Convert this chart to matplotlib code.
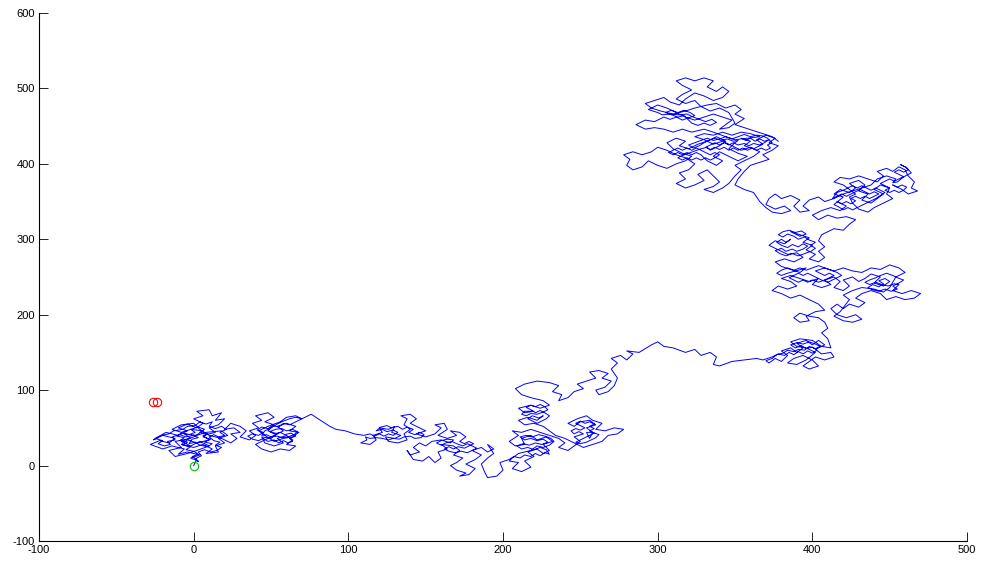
import numpy as np
import matplotlib
matplotlib.use("Agg")
import matplotlib.pyplot as plt

# ---- data: waypoints of the random walk (x, y), in walk order ----
seg_start = [(0,0)]
core_a1 = [(2,8),(-1,12),(3,15),(0,19),(-5,21),(-2,25),(-7,27),(-4,31),(-9,33),(-6,37),(-11,39),(-8,43),(-3,41),
           (1,44),(-2,48),(3,51),(7,48),(4,44),(9,42),(6,38),(11,35),(7,31),(12,29),(9,25),(4,27),(1,31),(-3,29),
           (-1,35),(3,37),(0,40),(-5,38),(-9,41),(-14,38),(-12,34),(-17,32),(-15,28),(-19,26),(-23,29),(-20,33),
           (-25,36),(-21,40),(-16,42),(-13,46),(-7,48),(-4,52),(1,53),(4,58),(8,55),(12,58),(10,52),(14,49),
           (18,52),(21,48),(17,44),(20,40),(16,38),(13,41),(10,38),(13,33),(17,31),(14,27),(18,24),(15,20),
           (11,18),(7,21),(3,18),(5,13),(1,9),(3,5)]
seg_a = [(3,6),(-2,10),(4,14),(-4,18),(-10,15),(-6,22),(-14,26),(-20,22),(-28,28),(-22,33),(-16,30),
         (-12,36),(-20,40),(-26,34),(-18,44),(-10,40),(-4,46),(-10,50),(-4,55),(2,50),(6,56),(0,62),(6,66),
         (2,72),(10,74),(12,66),(18,70),(14,60),(20,62),(16,54),(10,50),(14,44),(6,40),(10,34),(2,30),(-4,34),
         (-8,28),(0,24),(6,28),(12,22),(8,16),(16,18),(14,26),(20,30),(16,36),(22,40),(18,46),(8,44),(2,40),
         (-6,42),(-2,36),(-12,32),(-8,24),(-16,20),(-12,12),(-4,16),(2,20),(10,26),(4,32),(-2,26),(-8,32),
         (0,38),(6,46),(-2,48),(-8,44),(-14,48),(-8,54),(0,56),(4,48),(10,40),(18,36),(24,30),(28,36),(24,42),
         (30,44),(26,50),(20,48),(24,56),(30,52),(34,46),(30,38),(36,34),(40,40),(36,46),(42,50),(38,56),
         (44,60),(40,66),(48,70),(52,64),(46,58),(52,54),(48,46),(54,42),(50,36),(44,38),(46,30),(52,26),
         (58,30),(54,36),(60,40),(64,34),(60,28),(66,26),(62,20),(56,22),(50,18),(44,22),(40,28),(46,34),
         (52,40),(58,46),(54,52),(60,56),(66,52),(62,46),(68,44),(64,38),(58,36),(52,32),(46,40),(42,46),
         (48,52),(56,58),(60,64),(66,66),(70,62)]
core_a2 = [(66,58),(62,54),(58,56),(55,51),(51,53),(48,49),(44,51),(41,47),(45,44),(42,40),(38,42),(35,39),
           (38,35),(42,33),(45,36),(48,32),(52,34),(55,30),(58,33),(61,30),(64,32),(62,36),(66,39),(63,43),
           (59,41),(56,44),(52,42),(49,45),(53,48),(57,49),(60,46),(64,48),(67,45),(65,41),(61,38),(57,37),
           (54,39),(50,38),(47,41),(44,40),(46,46),(50,50),(54,55),(58,59),(62,62),(66,64),(70,62)]
seg_trail1 = [(76,68),(82,60),(88,52),(92,48),(98,46),(104,42),(110,40)]
core_b = [(114,42),(117,39),(120,42),(123,39),(126,42),(129,40),(132,44),(129,47),(125,45),(122,48),(118,46),
          (121,51),(125,53),(128,50),(132,52),(135,48),(138,51),(142,48),(139,44),(143,41),(146,44),(149,41),
          (147,37),(143,36),(140,39),(136,38),(133,35),(129,36),(126,34),(122,36),(118,37),(114,36),(111,38)]
seg_b1 = [(112,34),(108,30),(114,28),(118,34),(116,40),(122,44),(120,50),(126,48),(130,52),(128,44),(134,40),
          (130,36),(124,38),(126,32),(132,30),(138,34),(136,42),(140,48),(136,54),(138,62),(134,66),(140,68),
          (144,62),(140,56),(146,50),(150,46),(144,42),(150,38),(156,42),(160,50),(156,54),(162,56),(164,48),
          (158,40),(164,36),(170,40),(166,46),(172,44),(176,38),(172,32)]
core_b2 = [(175,29),(178,32),(181,29),(178,26),(175,23),(171,25),(168,22),(165,25),(162,22),(165,19),(169,17),
           (173,19),(177,17),(180,20),(183,23),(180,26),(177,29),(174,26),(170,29),(167,32),(163,30),(160,27),
           (157,30),(160,33),(164,35),(168,34)]
seg_b2 = [(166,30),(160,34),(154,32),(150,26),
          (146,30),(142,24),(146,18),(140,14),(138,20),(142,8),(148,6),(152,12),(156,4),(160,10),(158,18),
          (164,22),(160,28),(168,26),(172,20),(168,14),(174,10),(170,4),(166,0),(170,-6),(176,-10),(172,-14),
          (178,-12),(182,-4),(176,2),(182,8),(186,14),(180,20),(186,24),(190,18),(194,22),(190,28),(194,16),
          (190,10),(186,2),(188,-8),(190,-16),(196,-14),(200,-6),(198,4),(204,8)]
core_c1 = [(207,12),(211,10),(214,14),(218,12),(221,16),(224,13),(227,17),(230,15),(228,21),(224,24),(220,21),
           (216,24),(212,22),(209,26),(213,29),(217,27),(221,30),(225,28),(229,31),(226,35),(222,33),(218,36),
           (214,34),(211,38),(215,40),(219,38),(223,41),(227,39),(231,36),(233,32),(230,27),(226,24),(222,26),
           (218,20),(214,18),(210,16),(206,10),(204,6)]
seg_c1 = [(210,4),(206,-4),(212,-8),(218,-2),(214,6),(220,12),(216,18),(222,22),(226,16),(230,20),(226,28),
          (232,32),(228,38),(222,34),(218,40),(212,36),(214,28),(208,26),(204,32),(210,40),(206,46),(212,44),
          (218,48),(224,44),(230,40),(236,36),(240,30),(236,24),(242,20),(246,26),(250,32),(246,38),(252,42)]
core_c2 = [(249,45),(246,42),(244,46),(247,49),(250,47),(253,50),(250,53),(247,56),(250,59),(253,56),(256,58),
           (259,55),(256,52),(259,49),(256,46),(259,43),(256,40),(253,37),(250,34),(247,31),(250,29),(254,31),
           (257,34),(260,37),(262,41),(258,44),(254,44)]
seg_c2 = [(256,36),(258,44),(254,50),(260,54),(256,60),(250,58),(246,52),(242,56),(248,62),(254,66),(258,60),
          (264,56),(260,48),(266,46),(272,50),(278,48),(274,42),(268,40),(264,32),(258,28),(252,24),(246,30),
          (240,36),(234,40),(230,46),(226,52),(220,56),(214,54),(210,60),(216,64),(222,60),(226,66)]
core_c3 = [(223,63),(219,66),(216,62),(219,59),(222,56),(225,59),(228,62),(230,66),(227,70),(224,73),(221,70),
           (218,74),(215,77),(218,80),(221,78),(224,81),(227,78),(229,74),(226,71),(222,68),(218,69),(215,66),
           (212,68),(214,72)]
seg_c3 = [(220,72),(214,70),(210,76),(218,80),(224,76),(230,80),(226,86),(218,90),(212,94),(208,102),(214,108),
          (222,112),(230,110),(236,106),(232,98),(238,94),(236,86),(242,90),(246,98),(252,102),(248,108),
          (254,112),(260,116),(256,124),(262,126),(268,122),(264,116),(270,112),(266,104),(260,100),(262,94),
          (268,98),(272,106),(274,116),(270,128),(274,136),(270,142),(276,146),(280,140),(284,148),(280,152),
          (288,150),(296,160),(300,164),(304,158),(310,156),(318,150),(324,154),(328,146),(334,150),(338,144),
          (336,134),(340,132),(348,138),(356,140),(364,142),(368,140)]
core_d = [(374,144),(378,148),(382,146),(385,150),(388,147),(391,151),(394,148),(397,152),(400,149),(403,153),
          (400,157),(396,155),(393,159),(389,156),(386,160),(390,163),(394,161),(398,164),(402,161),(405,158),
          (402,155),(398,158),(395,153),(391,154),(388,151),(384,153),(381,149),(377,147),(374,142),(370,139)]
seg_d = [(372,136),(376,142),(380,138),(384,146),(380,152),(386,156),(390,150),(394,156),(390,162),(396,166),
         (400,160),(404,166),(408,160),(402,154),(406,148),(412,150),(414,144),(408,140),(402,144),(398,138),
         (394,132),(398,128),(404,132),(400,140),(394,146),(388,142),(384,136),(390,134),(396,140),(402,150),
         (396,156),(390,158),(386,164),(392,168),(400,166),(406,158),(412,156),(410,168),(406,176),(410,182),
         (408,190),(404,196),(398,198),(392,202),(388,196),(392,190),(398,192),(396,198),(402,204),(408,206),
         (404,214),(398,220)]
seg_e1 = [(392,226),(386,222),(380,228),(374,232),(378,238),(384,234),(390,238),(386,244),(380,248),(386,252),
          (392,248),(398,244),(404,248),(400,240),(406,236),(412,240),(408,246),(414,250),(418,244),(414,236),
          (420,232),(424,238),(420,246),(426,250),(430,244),(434,248),(438,254),(444,250),(440,242),(446,238),
          (450,244)]
core_e2 = [(447,248),(443,245),(446,241),(443,237),(439,240),(436,236),(439,233),(443,231),(447,234),(451,231),
           (455,234),(452,238),(456,242),(459,246),(455,249),(452,252),(448,255),(444,252),(441,249),(437,246),
           (434,243),(437,240),(441,243),(445,240),(449,238),(453,241)]
seg_e2a = [(456,240),(452,232),(458,228),(464,232),(470,228),(466,222),(460,220),(454,224),(448,220),
           (444,228),(438,232),(432,228),(428,222),(434,216),(430,210),(424,214),(420,208),(416,214),(412,208),
           (416,200),(422,196),(428,200),(432,194),(426,190),(420,192),(414,198),(418,204),(424,220),(420,226),
           (426,232),(432,236),(440,234),(446,230),(450,236),(454,250),(460,256),(456,262),(450,266),(444,260),
           (438,262),(432,256),(426,258),(420,262),(414,258),(408,262),(402,258)]
core_e3 = [(405,255),(408,252),(411,255),(414,252),(411,249),(408,246),(404,243),(400,246),(397,243),(394,246),
           (391,243),(388,246),(385,249),(388,252),(391,255),(394,252),(397,255),(400,252),(403,249),(406,246),
           (410,243),(413,246),(416,249),(419,252),(416,256),(412,259),(408,262),(404,265),(400,262),(396,259),
           (392,262),(388,259),(384,262),(380,259),(377,255),(380,252),(384,255)]
seg_e2b = [(396,262),(392,256),(386,260),
           (380,264),(376,270),(382,274),(388,270),(394,276),(390,282),(384,280),(378,286),(372,292),(376,298),
           (382,294),(386,300)]
core_e1 = [(383,296),(380,300),(377,296),(380,292),(384,289),(387,293),(391,290),(394,294),(397,291),(394,287),
           (390,284),(387,287),(383,284),(380,288),(376,285),(379,281),(383,278),(387,281),(391,278),(395,281),
           (399,284),(402,288),(399,292),(402,296),(398,299),(395,303),(391,300),(388,304),(384,307),(381,303),
           (378,306),(381,310),(385,312),(389,309),(393,311),(396,307),(392,304)]
seg_e3 = [(386,310),(392,306),(398,302),(394,296),(400,292),(396,286),(402,280),(398,274),(404,270),(408,276),
          (404,284),(408,290),(404,298),(406,306),(410,310),(414,314),(420,312),(424,320),(428,326)]
seg_f1 = [(422,330),(416,328),(410,332),(404,326),(400,332),(406,338),(412,342),(418,338),(422,344),(416,350)]
core_f = [(419,347),(422,350),(425,347),(428,351),(425,354),(428,357),(431,354),(434,357),(437,354),(440,357),
          (443,360),(440,363),(437,360),(434,363),(431,366),(428,363),(425,360),(422,357),(419,360),(416,357),
          (413,354),(416,362),(420,365),(423,368),(426,371),(429,368),(432,371),(435,368),(438,365),(441,368),
          (444,365),(447,362),(444,358),(441,354),(438,351),(435,348),(432,345),(429,342),(426,339),(423,342),
          (420,339),(417,343),(414,346)]
seg_f2a = [(420,356),(414,360),(418,366),(424,362),(428,368),(424,374),(430,378),(434,372),(430,364),(436,360),
           (432,352),(438,348),(442,354),(446,360),(440,366),(444,372),(450,368),(448,360),(452,354),(446,348),
           (440,342),(436,336),(430,340),(426,348),(424,356),(428,360),(420,372),(414,376),(418,382),(424,380),
           (430,384),(436,380),(442,376),(446,384),(442,390),(448,394),(452,390),(456,396),(460,392),(462,384),
           (466,376),(464,368),(468,364),(462,360),(458,366),(452,372)]
core_f2 = [(455,369),(458,372),(461,369),(459,365),(456,362),(453,365),(450,362),(447,365),(450,368),(447,371),
           (444,374),(447,377),(450,380),(453,377),(456,380),(459,383),(456,386),(453,389),(456,392),(459,389),
           (462,392),(460,396),(457,399),(461,395),(464,388),(461,385),(458,381),(455,376),(452,375)]
seg_f2b = [(454,380),(448,384),(442,380),(438,372),
           (432,368),(426,364),(420,360),(414,354),(408,350),(404,356),(398,352),(394,344),(398,338),(392,336),
           (388,344),(392,352),(386,358),(380,354),(376,360),(372,354),(370,346),(376,340),(382,344),(386,338),
           (380,334),(374,336),(370,342),(366,350),(362,362),(356,366),(350,372),(352,380),(356,390),(360,398),
           (366,402),(372,406)]
seg_g1 = [(368,412),(374,418),(378,424),(372,428),(376,434),(370,438),(364,432),(368,426),(362,420),(356,424),
          (360,430),(354,434)]
core_g = [(357,431),(360,434),(363,430),(366,433),(369,430),(372,432),(369,428),(366,425),(362,427),(359,424),
          (356,427),(352,425),(349,428),(346,425),(343,428),(340,425),(337,428),(334,425),(331,422),(334,419),
          (337,422),(340,419),(343,422),(346,418),(349,421),(352,418),(355,421),(358,418),(361,421),(364,418),
          (367,421),(370,418),(373,421),(371,425),(374,428),(371,434),(368,437),(364,438),(360,436),(356,439),
          (352,436),(348,433),(344,436),(340,433),(336,431),(332,434),(328,431),(324,428),(320,425),(323,421),
          (327,424),(330,428),(333,431),(337,434),(341,431),(345,433),(349,430),(352,431)]
seg_g2 = [(350,428),(346,420),(352,414),(358,410),(352,404),(346,410),(340,416),(336,410),
          (342,404),(338,398),(332,404),(328,412)]
core_g3 = [(325,415),(322,412),(319,415),(316,412),(313,415),(310,412),(307,415),(310,418),(313,421),(316,418),
           (319,421),(322,418),(325,421),(328,418),(331,415),(334,412),(337,415),(340,412),(337,408),(334,405),
           (331,408),(328,405),(325,408),(322,405),(319,408),(316,405),(313,408),(316,411),(320,414),(324,417),
           (328,420),(332,422)]
seg_g3 = [(334,418),(340,424),(344,430),(338,436),(332,430),(326,426),
          (320,420),(314,424),(318,430),(312,434),(306,428),(310,420),(316,414),(322,410),(318,404),(312,400),
          (306,394),(300,398),(294,404),(290,396),(284,392),(280,398),(282,406),(278,412),(284,416),(290,412),
          (296,416),(300,422),(306,418),(312,412),(318,408),(324,400),(320,392),(314,388),(318,380),(312,374),
          (318,368),(324,372),(330,378),(326,386),(332,392),(336,384),(340,376),(336,370),(330,366),(336,362),
          (342,368),(346,374),(350,384),(354,392),(350,398),(356,404),(362,410),(366,416),(360,422),(354,418),
          (348,424),(342,430),(336,426),(330,432),(324,436),(330,440),(336,438),(342,442),(348,438),(354,442),
          (360,440),(366,436),(358,434),(350,432),(344,436),(336,442),(330,446),(322,442),(316,446),(310,442),
          (304,446),(298,448),(292,446),(286,452),(292,458),(298,456),(304,462)]
core_g2 = [(308,459),(312,462),(316,458),(320,461),(324,464),(321,468),(317,471),(313,468),(309,471),(305,468),
           (309,465),(313,462),(317,464),(322,454),(326,451),(330,454),(334,451),(338,455),(335,459),(331,456),
           (327,459),(323,462),(319,466),(314,465),(308,466),(303,465)]
seg_g4 = [(300,468),(294,472),(300,478),
          (306,474),(312,468),(318,462),(324,458),(330,462),(336,466),(342,462),(348,458),(344,452),(340,446),
          (346,448),(350,454),(346,468),(340,474),(334,470),(328,476),(324,484),(318,480),(312,486),(316,492),
          (322,498),(316,504),(312,510),(318,514),(324,510),(330,514),(336,510),(332,502),(338,496),(342,502),
          (346,496),(342,488),(336,484),(330,490),(324,494),(318,486),(314,478),(308,482),(304,488),(298,484),
          (292,480),(296,474),(302,470),(310,466),(318,470),(324,474),(332,478),(338,480),(344,474),(350,478),
          (354,472),(350,466),(356,460),(350,452),(356,448),(362,444),(368,440),(374,436),(378,430)]

start_x = [0]
start_y = [0]
red_x = [-26, -23.5]
red_y = [84, 84]

x_ticks = [-100, 0, 100, 200, 300, 400, 500]
y_ticks = [-100, 0, 100, 200, 300, 400, 500, 600]

# ---- plot ----
plt.rcParams['font.family'] = ['Liberation Sans', 'DejaVu Sans']
plt.rcParams['axes.unicode_minus'] = False
fig = plt.figure(figsize=(9.83, 5.62), dpi=100)
ax = fig.add_axes([0.0397, 0.0374, 0.9440, 0.9395])

segments = [seg_start, core_a1, seg_a, core_a2, seg_trail1, core_b, seg_b1, core_b2, seg_b2, core_c1, seg_c1,
            core_c2, seg_c2, core_c3, seg_c3, core_d, seg_d, seg_e1, core_e2, seg_e2a, core_e3, seg_e2b,
            core_e1, seg_e3, seg_f1, core_f, seg_f2a, core_f2, seg_f2b, seg_g1, core_g, seg_g2, core_g3,
            seg_g3, core_g2, seg_g4]
path = np.array([p for s in segments for p in s], dtype=float)
ax.plot(path[:, 0], path[:, 1], color='#0000ff', lw=0.7)
ax.plot(start_x, start_y, 'o', mfc='none', mec='#00c000', ms=6, mew=0.8)
ax.plot(red_x, red_y, 'o', mfc='none', mec='#ff0000', ms=6, mew=0.8)

ax.set_xlim(-100, 500)
ax.set_ylim(-100, 600)
ax.set_xticks(x_ticks)
ax.set_yticks(y_ticks)
ax.spines['top'].set_visible(False)
ax.spines['right'].set_visible(False)
for s in ('left', 'bottom'):
    ax.spines[s].set_linewidth(0.8)
ax.tick_params(direction='in', length=6.5, width=0.6, labelsize=8, colors='black', pad=3)

fig.savefig('out.png', dpi=100)
